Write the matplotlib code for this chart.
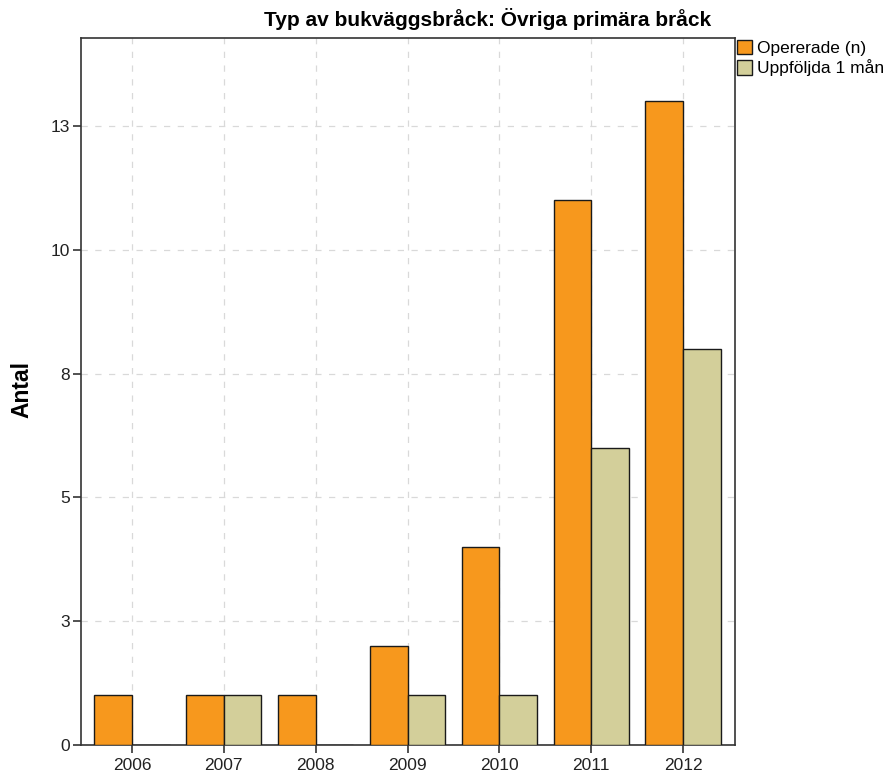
import matplotlib
matplotlib.use("Agg")
import matplotlib.pyplot as plt
import numpy as np

plt.rcParams['font.family'] = ['Liberation Sans', 'DejaVu Sans']

years = ["2006", "2007", "2008", "2009", "2010", "2011", "2012"]
opererade = [1, 1, 1, 2, 4, 11, 13]
uppfoljda = [0, 1, 0, 1, 1, 6, 8]
ytick_vals = [0, 2.5, 5, 7.5, 10, 12.5]
ytick_labels = ["0", "3", "5", "8", "10", "13"]

fig = plt.figure(figsize=(8.86, 7.80), dpi=100)
ax = fig.add_axes([81/886, 1-745/780, (735-81)/886, (745-38)/780])

x = np.arange(len(years))
w = 0.41
ax.bar(x - w/2, opererade, width=w, color="#F7981D", edgecolor="#1a1a1a", linewidth=1.0, label="Opererade (n)", zorder=3)
ax.bar(x + w/2, uppfoljda, width=w, color="#D3CF9A", edgecolor="#1a1a1a", linewidth=1.0, label="Uppföljda 1 mån", zorder=3)

ax.set_xlim(-0.555, 6.565)
ax.set_ylim(0, 14.28)
ax.set_xticks(x)
ax.set_xticklabels(years, fontsize=12.5)
ax.set_yticks(ytick_vals)
ax.set_yticklabels(ytick_labels, fontsize=12.5)
ax.tick_params(axis='both', direction='out', length=6, width=1.2, color="#333333", labelcolor="#222222")
ax.tick_params(axis='x', pad=3)
ax.tick_params(axis='y', pad=2)
ax.grid(True, linestyle=(0, (5, 6)), color="#d9d9d9", linewidth=0.9, zorder=0)
ax.set_axisbelow(True)
for s in ax.spines.values():
    s.set_color("#333333")
    s.set_linewidth(1.2)

fig.text(22/886, 1-390/780, "Antal", fontsize=16.5, fontweight='bold', rotation=90, ha='center', va='center')
fig.text(488/886, 1-19/780, "Typ av bukväggsbråck: Övriga primära bråck", fontsize=15, fontweight='bold', ha='center', va='center')

leg = ax.legend(loc='upper left', bbox_to_anchor=(1.0, 1.0), frameon=False, fontsize=12.5,
                handlelength=0.9, handleheight=0.9, handletextpad=0.25, borderaxespad=0.1,
                borderpad=0.0, labelspacing=0.2)

fig.savefig("out.png", dpi=100)
